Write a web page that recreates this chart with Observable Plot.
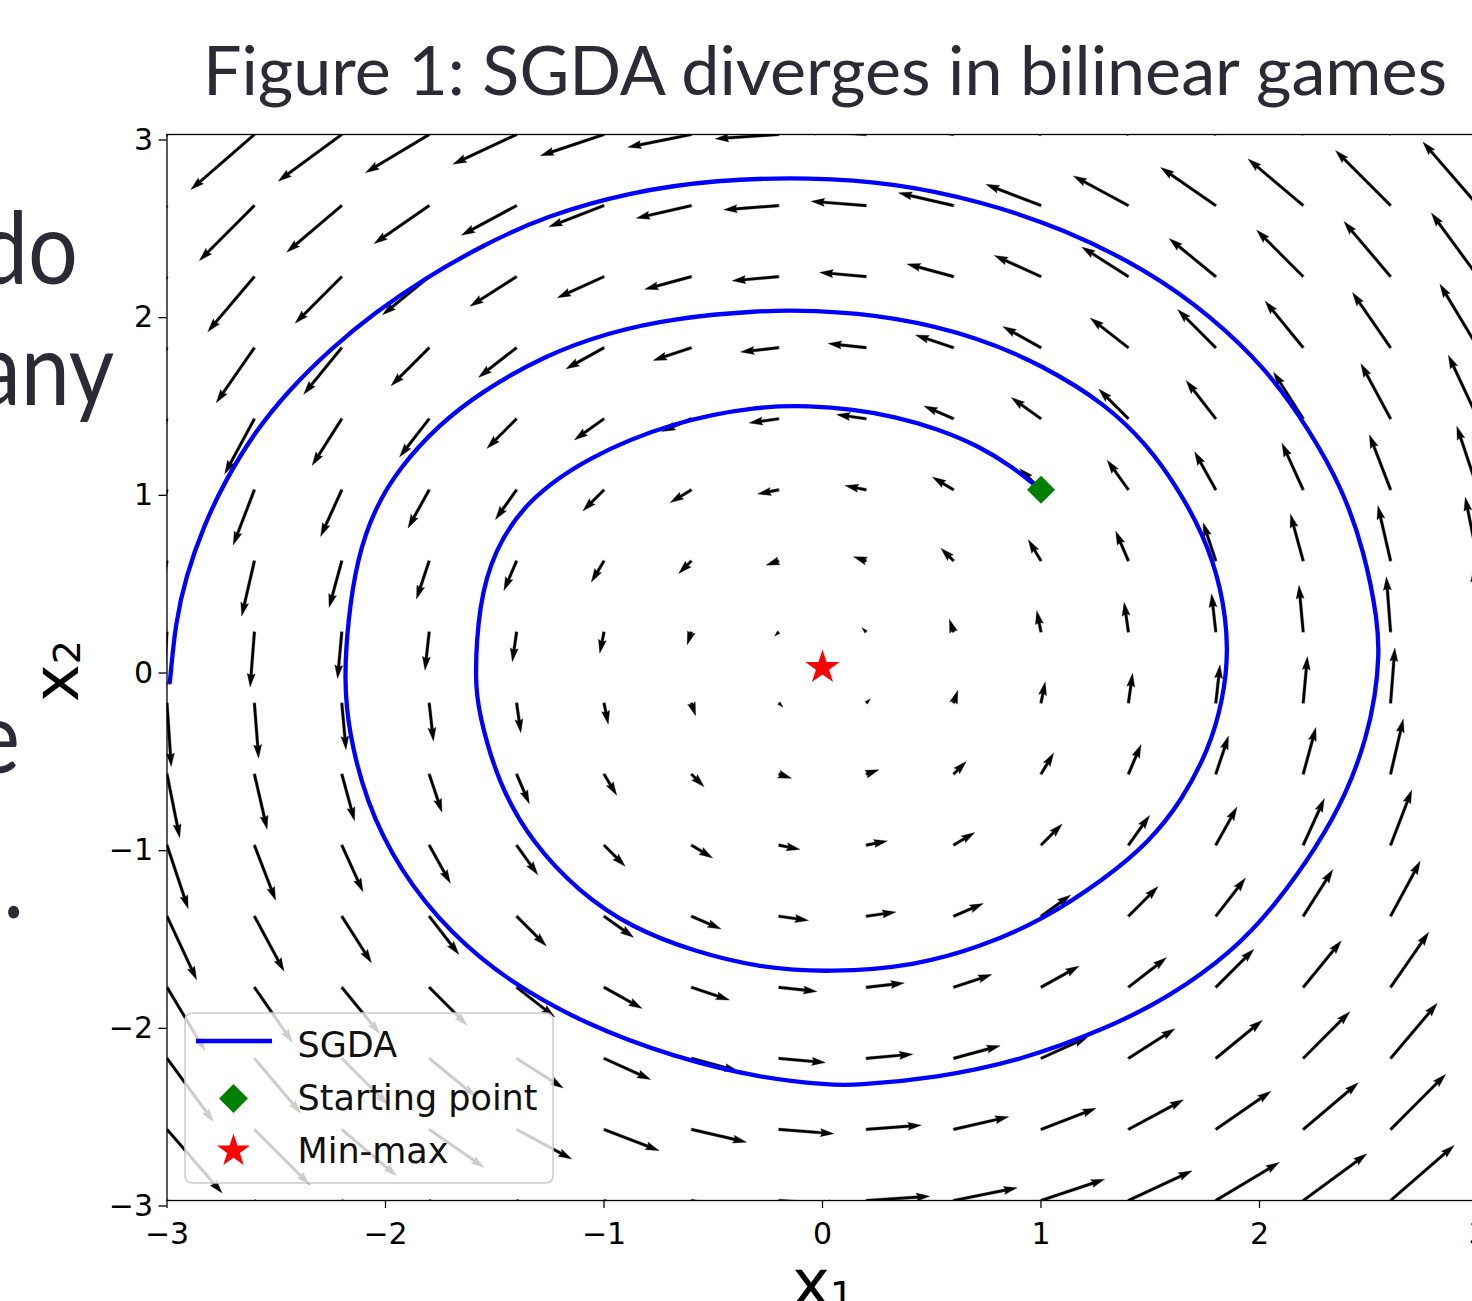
<!DOCTYPE html>
<html><head><meta charset="utf-8">
<script src="https://cdn.jsdelivr.net/npm/d3@7"></script>
<script src="https://cdn.jsdelivr.net/npm/@observablehq/plot@0.6"></script>
<style>
html,body{margin:0;padding:0;background:#fff;overflow:hidden;}
#page{position:relative;width:1472px;height:1301px;overflow:hidden;background:#fff;}
#plot{position:absolute;left:0;top:0;width:1560px;height:1301px;}
#plot svg{max-width:none !important;width:1560px !important;height:1301px !important;}
#overlay{position:absolute;left:0;top:0;pointer-events:none;}
</style></head><body>
<div id="page"><div id="plot"></div><svg id="overlay" width="1472" height="1301"></svg></div>
<script>
// ---------- data ----------
const gridX = [-3,-2.6,-2.2,-1.8,-1.4,-1,-0.6,-0.2,0.2,0.6,1,1.4,1.8,2.2,2.6,3];
const gridY = [-3,-2.6,-2.2,-1.8,-1.4,-1,-0.6,-0.2,0.2,0.6,1,1.4,1.8,2.2,2.6,3];
// horizontal field component for each row, vertical component for each column
const uByRow = [3,2.6,2.2,1.8,1.4,1,0.6,0.2,-0.2,-0.6,-1,-1.4,-1.8,-2.2,-2.6,-3];
const vByCol = [-3,-2.6,-2.2,-1.8,-1.4,-1,-0.6,-0.2,0.2,0.6,1,1.4,1.8,2.2,2.6,3];

const spiralX = [1.000,0.872,0.718,0.524,0.331,0.138,-0.055,-0.293,-0.683,-1.074,-1.360,-1.504,-1.573,-1.592,
  -1.573,-1.485,-1.328,-1.113,-0.878,-0.585,-0.292,0.037,0.428,0.718,1.008,1.297,1.491,1.645,1.770,1.830,1.862,
  1.826,1.742,1.626,1.491,1.297,1.008,0.718,0.331,-0.055,-0.292,-0.683,-0.976,-1.270,-1.563,-1.758,-1.935,-2.052,
  -2.130,-2.173,-2.189,-2.169,-2.091,-1.935,-1.700,-1.426,-1.074,-0.683,-0.292,0.037,0.138,0.524,0.911,1.297,1.587,
  1.877,2.070,2.264,2.399,2.490,2.530,2.547,2.542,2.480,2.379,2.225,2.032,1.780,1.491,1.104,0.718,0.331,-0.055,
  -0.487,-0.878,-1.270,-1.563,-1.817,-2.052,-2.247,-2.443,-2.600,-2.736,-2.834,-2.913,-2.961,-2.987];
const spiralY = [1.000,1.127,1.246,1.345,1.413,1.453,1.473,1.472,1.383,1.186,0.935,0.653,0.356,-0.074,
  -0.257,-0.652,-0.988,-1.264,-1.462,-1.600,-1.689,-1.718,-1.678,-1.575,-1.422,-1.185,-0.987,-0.750,-0.454,-0.198,0.100,
  0.456,0.752,1.009,1.246,1.483,1.700,1.857,1.976,2.012,2.009,1.966,1.887,1.758,1.551,1.364,1.127,0.890,
  0.613,0.258,-0.074,-0.356,-0.751,-1.145,-1.501,-1.777,-2.014,-2.192,-2.310,-2.350,-2.353,-2.310,-2.211,-2.034,-1.856,
  -1.599,-1.342,-1.007,-0.711,-0.395,-0.158,0.060,0.259,0.653,1.009,1.345,1.680,1.976,2.233,2.470,2.627,2.726,2.760,
  2.746,2.677,2.541,2.371,2.193,1.995,1.798,1.561,1.323,1.047,0.791,0.514,0.258,-0.084];

const startPoint = [{x: 1, y: 1}];
const minMaxPoint = [{x: 0, y: 0}];

const xTicks = [-3,-2,-1,0,1,2,3];
const xTickLabels = ["−3","−2","−1","0","1","2","3"];
const yTicks = [-3,-2,-1,0,1,2,3];
const yTickLabels = ["−3","−2","−1","0","1","2","3"];

const legendLabels = ["SGDA","Starting point","Min-max"];
const titleText = "Figure 1: SGDA diverges in bilinear games";
const slideFragments = ["do","any","e","."];
const xLabel = ["x","1"];
const yLabel = ["x","2"];

// ---------- tables ----------
const field = [];
gridY.forEach((y, j) => gridX.forEach((x, i) => field.push({x, y, u: uByRow[j], v: vByCol[i]})));
const spiral = spiralX.map((x, i) => ({x, y: spiralY[i]}));

// matplotlib-like quiver arrow (shaft width W, head 3W wide, 5W long)
const W = 2.7;
const quiverShape = {
  draw(ctx, l) {
    let L = l / W, s = 1;
    if (L < 5) { s = L / 5; L = 5; }
    const pts = [[0,0.5],[L-4.5,0.5],[L-5,1.5],[L,0],[L-5,-1.5],[L-4.5,-0.5],[0,-0.5]];
    pts.forEach(([a, b], k) => {
      const px = b * s * W, py = -a * s * W;
      if (k) ctx.lineTo(px, py); else ctx.moveTo(px, py);
    });
    ctx.closePath();
  }
};

const chart = Plot.plot({
  width: 1560, height: 1301,
  marginLeft: 166.5, marginRight: 82.5, marginTop: 134, marginBottom: 101,
  x: {domain: [-3, 3]},
  y: {domain: [-3, 3]},
  length: {type: "linear", domain: [0, 1], range: [0, 21.2]},
  style: {fontFamily: "DejaVu Sans", fontSize: "30px", color: "black", background: "none",
    overflow: "visible", maxWidth: "none", width: "1560px", height: "1301px"},
  marks: [
    Plot.vector(field, {
      x: "x", y: "y",
      length: d => Math.hypot(d.u, d.v),
      rotate: d => Math.atan2(d.u, d.v) * 180 / Math.PI,
      anchor: "start", shape: quiverShape,
      fill: "black", stroke: "black", strokeWidth: 0.3, clip: true
    }),
    Plot.line(spiral, {x: "x", y: "y", stroke: "#0000ff", strokeWidth: 4.3, curve: "basis",
      strokeLinejoin: "round", clip: true}),
    Plot.frame({stroke: "black", strokeWidth: 1.3}),
    Plot.dot(startPoint, {x: "x", y: "y", symbol: "diamond2", r: 12.6, fill: "#008000", stroke: "none"}),
    Plot.dot(minMaxPoint, {x: "x", y: "y", symbol: "star", r: 10.8, fill: "#ff0000", stroke: "none"}),
    Plot.axisX({ticks: xTicks, tickFormat: d => xTickLabels[xTicks.indexOf(d)], tickSize: 8, tickPadding: 14,
      fontSize: 30, strokeWidth: 1.3, label: null}),
    Plot.axisY({ticks: yTicks, tickFormat: d => yTickLabels[yTicks.indexOf(d)], tickSize: 8, tickPadding: 6,
      fontSize: 30, strokeWidth: 1.3, dy: 5.5, label: null})
  ]
});
document.getElementById("plot").appendChild(chart);

// ---------- overlay: slide text, axis labels, legend ----------
const ov = d3.select("#overlay");
const slideColor = "#2b2b36";
ov.append("text").attr("x", 203).attr("y", 95)
  .attr("font-family", "Lato, 'Open Sans', sans-serif").attr("font-size", 67).attr("fill", slideColor)
  .attr("textLength", 1244).attr("lengthAdjust", "spacingAndGlyphs").text(titleText);
const fragPos = [[78, 284], [114, 405], [20, 773], [24, 918]];
slideFragments.forEach((t, i) => {
  ov.append("text").attr("transform", `translate(${fragPos[i][0]},${fragPos[i][1]}) scale(0.88,1)`)
    .attr("text-anchor", "end")
    .attr("font-family", "Lato, 'Open Sans', sans-serif").attr("font-size", 100).attr("fill", slideColor).text(t);
});

// axis labels
const xl = ov.append("text").attr("x", 823).attr("y", 1305).attr("text-anchor", "middle")
  .attr("font-family", "DejaVu Sans").attr("font-size", 64).attr("fill", "black");
xl.append("tspan").text(xLabel[0]);
xl.append("tspan").attr("font-size", 38).attr("dy", 3).text(xLabel[1]);
const yl = ov.append("text").attr("transform", "translate(78,671) rotate(-90)").attr("text-anchor", "middle")
  .attr("font-family", "DejaVu Sans").attr("font-size", 64).attr("fill", "black");
yl.append("tspan").text(yLabel[0]);
yl.append("tspan").attr("font-size", 38).attr("dy", 2).text(yLabel[1]);

// legend
const lg = ov.append("g");
lg.append("rect").attr("x", 185).attr("y", 1013).attr("width", 368).attr("height", 170).attr("rx", 7)
  .attr("fill", "white").attr("fill-opacity", 0.8).attr("stroke", "#cccccc").attr("stroke-width", 1.5);
lg.append("line").attr("x1", 196).attr("x2", 272).attr("y1", 1041).attr("y2", 1041)
  .attr("stroke", "#0000ff").attr("stroke-width", 4.5);
lg.append("path").attr("transform", "translate(233.5,1098.5)")
  .attr("d", d3.symbol(d3.symbolDiamond2, Math.PI * 13 * 13)()).attr("fill", "#008000");
lg.append("path").attr("transform", "translate(233.5,1151)")
  .attr("d", d3.symbol(d3.symbolStar, Math.PI * 10.4 * 10.4)()).attr("fill", "#ff0000");
const lgY = [1057, 1109.5, 1162.5];
legendLabels.forEach((t, i) => {
  lg.append("text").attr("x", 297.5).attr("y", lgY[i]).attr("font-family", "DejaVu Sans")
    .attr("font-size", 35).attr("fill", "#111").text(t);
});
</script>
</body></html>
